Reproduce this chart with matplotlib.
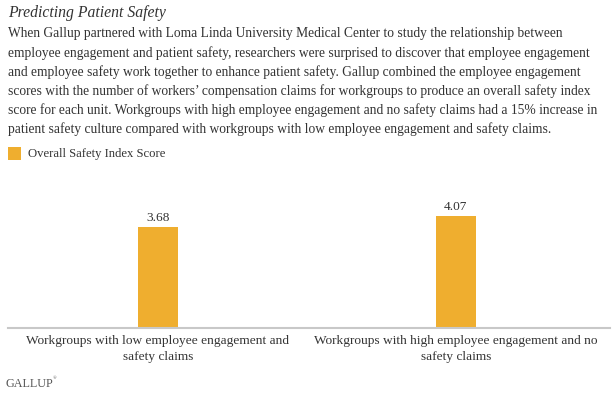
import matplotlib.pyplot as plt
from matplotlib.patches import Rectangle

plt.rcParams['font.family'] = ['Liberation Serif', 'DejaVu Serif']

categories = ['Workgroups with low employee engagement and\nsafety claims',
              'Workgroups with high employee engagement and no\nsafety claims']
scores = [3.68, 4.07]
series_name = 'Overall Safety Index Score'
title = 'Predicting Patient Safety'
body = ["When Gallup partnered with Loma Linda University Medical Center to study the relationship between",
        "employee engagement and patient safety, researchers were surprised to discover that employee engagement",
        "and employee safety work together to enhance patient safety. Gallup combined the employee engagement",
        "scores with the number of workers\u2019 compensation claims for workgroups to produce an overall safety index",
        "score for each unit. Workgroups with high employee engagement and no safety claims had a 15% increase in",
        "patient safety culture compared with workgroups with low employee engagement and safety claims."]

W, H = 614, 399
bar_color = '#EFAE2F'
txt = '#333333'

fig = plt.figure(figsize=(W / 100, H / 100), dpi=100)

def fx(px):
    return px / W

def fy(py):
    return 1 - py / H

fig.text(fx(8), fy(13), title, fontsize=11.3, style='italic', color=txt, va='center')
for i, line in enumerate(body):
    fig.text(fx(8), fy(34 + i * 19), line, fontsize=9.75, color=txt, va='center')

fig.patches.append(Rectangle((fx(8), fy(160)), 13 / W, 13 / H, transform=fig.transFigure,
                             facecolor=bar_color, edgecolor='none'))
fig.text(fx(28), fy(154), series_name, fontsize=9.1, color=txt, va='center')

ax = fig.add_axes([fx(8), fy(328), fx(602), (328 - 180) / H])
x = range(len(scores))
bars = ax.bar(x, scores, width=0.134, color=bar_color)
ax.set_xlim(-0.503, 1.517)
ax.set_ylim(0, 5.38)
for b, v in zip(bars, scores):
    ax.text(b.get_x() + b.get_width() / 2, v + 0.1, f'{v:.2f}', ha='center', va='bottom',
            fontsize=9.6, color=txt)
ax.set_xticks(list(x))
ax.set_xticklabels(categories, fontsize=9.6, color=txt, linespacing=1.45)
ax.tick_params(axis='x', length=0, pad=5)
ax.set_yticks([])
for s in ['top', 'left', 'right']:
    ax.spines[s].set_visible(False)
ax.spines['bottom'].set_color('#c8c8c8')
ax.spines['bottom'].set_linewidth(1.5)
ax.patch.set_alpha(0)

fig.text(fx(5), fy(384), 'GALLUP', fontsize=8.7, color='#555555', va='center')
fig.text(fx(53), fy(378), '\u00ae', fontsize=3.5, color='#555555', va='center')

fig.savefig('out.png', dpi=100)
